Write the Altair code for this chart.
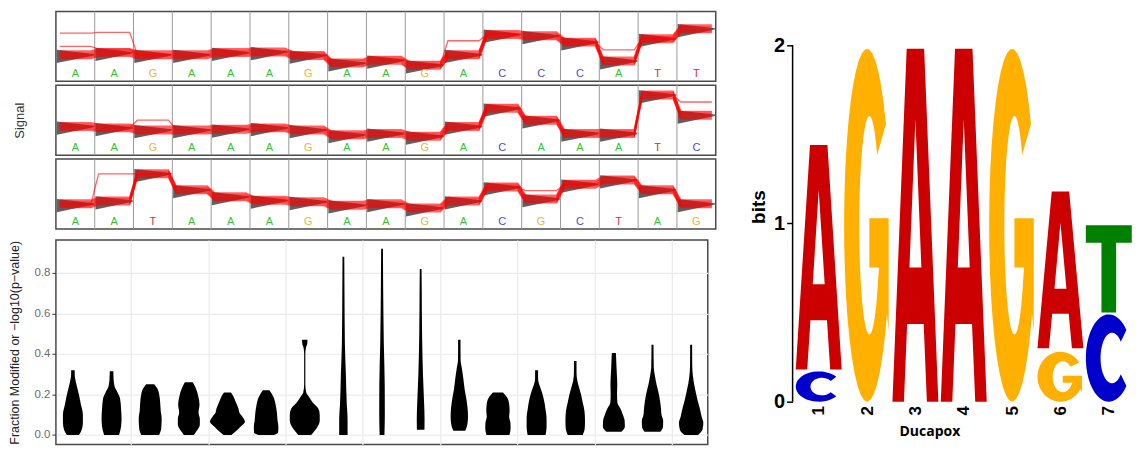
import altair as alt
import numpy as np
import pandas as pd

FONT = "Liberation Sans"

# ---------------- signal panels ----------------
panel_bases = ["AAGAAAGAAGACCCATT", "AAGAAAGAAGACAAATC", "AATAAAGAAGACGCTAG"]
panel1_levels = [0.38, 0.41, 0.38, 0.38, 0.41, 0.42, 0.37, 0.26, 0.30, 0.23, 0.38, 0.67, 0.65, 0.56, 0.29, 0.61, 0.75]
panel2_levels = [0.41, 0.39, 0.36, 0.36, 0.37, 0.39, 0.36, 0.29, 0.31, 0.27, 0.41, 0.67, 0.50, 0.31, 0.31, 0.86, 0.57]
panel3_levels = [0.36, 0.40, 0.79, 0.56, 0.46, 0.41, 0.39, 0.34, 0.36, 0.30, 0.40, 0.60, 0.43, 0.64, 0.70, 0.56, 0.36]
panel_levels = [panel1_levels, panel2_levels, panel3_levels]
band_offsets = [-0.055, -0.04, -0.027, -0.013, 0.0, 0.013, 0.027, 0.04, 0.055]
outlier_panel = [0, 0, 0, 0, 1, 1, 2, 2]
outlier_start = [0, 0, 10, 14, 16, 2, 1, 12]
outlier_values = [[0.69, 0.70], [0.50, 0.46], [0.58], [0.45], [0.76], [0.50], [0.79], [0.55]]

base_domain = ["A", "C", "G", "T"]
base_colors = ["#35c435", "#4a4ad0", "#f0b43c", "#d83030"]

# ---------------- violin panel ----------------
violin_levels = [
    [0, 0.02, 0.06, 0.10, 0.15, 0.20, 0.26, 0.30, 0.32],
    [0, 0.04, 0.08, 0.13, 0.18, 0.21, 0.24, 0.28, 0.315],
    [0, 0.03, 0.08, 0.12, 0.16, 0.20, 0.23, 0.25],
    [0, 0.02, 0.05, 0.08, 0.11, 0.15, 0.19, 0.23, 0.26],
    [0, 0.02, 0.04, 0.065, 0.09, 0.11, 0.13, 0.16, 0.19, 0.21],
    [0, 0.01, 0.04, 0.07, 0.11, 0.15, 0.18, 0.20, 0.22],
    [0, 0.03, 0.07, 0.10, 0.13, 0.16, 0.19, 0.21, 0.25, 0.40, 0.43, 0.45, 0.47],
    [0, 0.08, 0.15, 0.30, 0.45, 0.70, 0.88],
    [0, 0.10, 0.25, 0.45, 0.70, 0.92],
    [0.025, 0.08, 0.15, 0.30, 0.50, 0.70, 0.82],
    [0.02, 0.05, 0.09, 0.13, 0.18, 0.22, 0.28, 0.33, 0.37, 0.47],
    [0, 0.03, 0.06, 0.09, 0.12, 0.16, 0.19, 0.21],
    [0, 0.04, 0.08, 0.13, 0.17, 0.20, 0.23, 0.26, 0.28, 0.32],
    [0, 0.03, 0.07, 0.12, 0.16, 0.20, 0.24, 0.27, 0.31, 0.365],
    [0.015, 0.04, 0.07, 0.10, 0.13, 0.16, 0.20, 0.25, 0.30, 0.35, 0.39, 0.405],
    [0.015, 0.04, 0.07, 0.10, 0.13, 0.17, 0.21, 0.25, 0.29, 0.33, 0.445],
    [0, 0.025, 0.06, 0.09, 0.13, 0.17, 0.21, 0.25, 0.29, 0.34, 0.445],
]
violin_halfwidths = [
    [6, 8.5, 10, 10, 8, 6, 3, 1.8, 1.8],
    [7.5, 9.5, 10, 9.5, 8.5, 6, 3, 2, 1.8],
    [9, 11, 11.5, 10.5, 10, 9, 7, 4],
    [5, 8, 11, 11, 9.7, 10.7, 9.5, 7, 4],
    [4, 9, 13, 17.5, 15, 12, 11, 8.5, 6, 3.5],
    [8, 12, 12.3, 11.5, 10.8, 9.5, 8, 6, 3.3],
    [6.5, 11.5, 15, 15, 13.5, 8, 4, 1.5, 0.6, 0.6, 1.2, 2.5, 2.7],
    [4.2, 4.2, 3.4, 2.5, 1.5, 1.1, 0.9],
    [2.4, 2.8, 2.7, 1.8, 1.2, 0.9],
    [3.8, 3.9, 3.5, 2.3, 1.4, 1.1, 0.9],
    [6, 8, 8.7, 8.3, 7, 5.5, 4, 2.5, 1.3, 1.2],
    [11.5, 12.7, 12.5, 11.2, 11.7, 11, 8.5, 5],
    [9, 10, 10, 8.8, 7.5, 6, 4, 2, 1.5, 1.5],
    [7.5, 9.5, 9.8, 9.2, 7.5, 5.8, 3.5, 2, 1.3, 1.3],
    [7.5, 11, 10.8, 9, 6.5, 3.5, 3.2, 3.4, 3, 2.5, 2.2, 2],
    [8, 10.5, 10.7, 9, 8.5, 7.5, 6, 4, 2.5, 1.3, 1],
    [7, 11.3, 12.2, 10.5, 8.7, 6.5, 4.7, 3, 1.8, 1.1, 1],
]
violin_ticks = [0.0, 0.2, 0.4, 0.6, 0.8]
violin_vgrid = [2.5, 4.5, 6.5, 8.5, 10.5, 12.5, 14.5, 16.5]
WIDTH_UNIT = 38.7  # px per position unit, converts half-widths

# ---------------- sequence logo ----------------
logo_pos = [1, 1, 2, 3, 4, 5, 6, 6, 7, 7]
logo_letter = ["C", "A", "G", "A", "A", "G", "G", "A", "C", "T"]
logo_bottom = [0.0, 0.18, 0.0, 0.0, 0.0, 0.0, 0.0, 0.30, 0.0, 0.50]
logo_top = [0.17, 1.44, 1.98, 1.98, 1.98, 1.98, 0.28, 1.18, 0.49, 0.99]
logo_colors = ["#cc0000", "#0000cc", "#ffb000", "#008000"]  # A C G T
LETTER_W = 0.95


def arc(cx, cy, rx, ry, a0, a1, n=36):
    t = np.radians(np.linspace(a0, a1, n))
    return list(zip(cx + rx * np.cos(t), cy + ry * np.sin(t)))


def glyph(letter):
    if letter == "A":
        return [(0, 0), (0.31, 1), (0.69, 1), (1, 0), (0.75, 0), (0.68, 0.22),
                (0.32, 0.22), (0.37, 0.38), (0.63, 0.38), (0.5, 0.80), (0.37, 0.38),
                (0.32, 0.22), (0.25, 0)]
    if letter == "T":
        return [(0, 1), (1, 1), (1, 0.80), (0.66, 0.80), (0.66, 0), (0.34, 0),
                (0.34, 0.80), (0, 0.80)]
    if letter == "C":
        return arc(0.5, 0.5, 0.5, 0.5, 40, 320) + arc(0.57, 0.5, 0.25, 0.29, 320, 40)
    # G
    return (arc(0.5, 0.5, 0.5, 0.5, 35, 330)
            + [(0.97, 0.2), (0.97, 0.52), (0.55, 0.52), (0.55, 0.38), (0.76, 0.38)]
            + arc(0.55, 0.5, 0.22, 0.31, 320, 40))


# ================= build signal panels =================
def signal_panel(k):
    lv = panel_levels[k]
    n = len(lv)
    rows = []
    for t, off in enumerate(band_offsets):
        for i in range(n):
            rows.append({"trace": f"b{t}", "x": i + 0.1, "v": lv[i] + off})
            rows.append({"trace": f"b{t}", "x": i + 0.9, "v": lv[i] + off})
    for j, (p, s, vals) in enumerate(zip(outlier_panel, outlier_start, outlier_values)):
        if p != k:
            continue
        for i in range(max(0, s - 1), min(n, s + len(vals) + 1)):
            v = vals[i - s] if s <= i < s + len(vals) else lv[i]
            rows.append({"trace": f"o{j}", "x": i + 0.1, "v": v})
            rows.append({"trace": f"o{j}", "x": i + 0.9, "v": v})
    lines_df = pd.DataFrame(rows)
    wrows = []
    for i in range(n):
        wrows.append({"col": i, "x": i + 0.02, "lo": lv[i] - 0.12, "hi": lv[i] + 0.07})
        wrows.append({"col": i, "x": i + 0.98, "lo": lv[i] - 0.01, "hi": lv[i] + 0.01})
    wedge_df = pd.DataFrame(wrows)
    sep_df = pd.DataFrame({"x": list(range(1, n))})
    letters_df = pd.DataFrame({"x": [i + 0.5 for i in range(n)], "base": list(panel_bases[k])})

    xs = alt.Scale(domain=[0, n], nice=False, zero=False)
    ys = alt.Scale(domain=[0, 1], nice=False, zero=False)
    if k == 1:
        yaxis = alt.Axis(title="Signal", labels=False, ticks=False, domain=False, grid=False,
                         titlePadding=29, titleFont=FONT, titleFontSize=13,
                         titleFontWeight="normal", titleColor="#333333")
    else:
        yaxis = None

    wedge = alt.Chart(wedge_df).mark_area(color="#4f4f4f", opacity=0.9).encode(
        x=alt.X("x:Q", scale=xs, axis=None),
        y=alt.Y("lo:Q", scale=ys, axis=yaxis),
        y2="hi:Q",
        detail="col:N",
    )
    lines = alt.Chart(lines_df).mark_line(color="#ff0000", strokeWidth=1.3, opacity=0.6).encode(
        x=alt.X("x:Q", scale=xs, axis=None),
        y=alt.Y("v:Q", scale=ys, axis=yaxis),
        detail="trace:N",
    )
    seps = alt.Chart(sep_df).mark_rule(color="#9a9a9a", strokeWidth=1).encode(
        x=alt.X("x:Q", scale=xs, axis=None)
    )
    letters = alt.Chart(letters_df).mark_text(font=FONT, fontSize=11, baseline="middle").encode(
        x=alt.X("x:Q", scale=xs, axis=None),
        y=alt.value(63),
        text="base:N",
        color=alt.Color("base:N", scale=alt.Scale(domain=base_domain, range=base_colors), legend=None),
    )
    return alt.layer(seps, wedge, lines, letters).properties(width=661, height=70)


# ================= violin panel =================
vrows = []
for j, (lvls, hws) in enumerate(zip(violin_levels, violin_halfwidths)):
    c = j + 1
    for v, hw in zip(lvls, hws):
        vrows.append({"violin": j, "v": v, "xl": c - hw / WIDTH_UNIT, "xr": c + hw / WIDTH_UNIT})
violin_df = pd.DataFrame(vrows)

violin = alt.Chart(violin_df).mark_area(orient="horizontal", color="black", interpolate="monotone").encode(
    y=alt.Y("v:Q", scale=alt.Scale(domain=[-0.048, 0.963], nice=False, zero=False),
            axis=alt.Axis(values=violin_ticks, format=".1f", grid=True, gridColor="#ebebeb",
                          gridWidth=1.2, domain=False, tickColor="#333333", tickSize=4,
                          labelColor="#6b6b6b", labelFont=FONT, labelFontSize=11.5, labelPadding=2,
                          title="Fraction Modified or \u2212log10(p\u2212value)",
                          titleFont=FONT, titleFontSize=12.5, titleFontWeight="normal",
                          titleColor="#222222", titlePadding=12)),
    x=alt.X("xl:Q", scale=alt.Scale(domain=[0.56, 17.43], nice=False, zero=False),
            axis=alt.Axis(values=violin_vgrid, grid=True, gridColor="#ebebeb", gridWidth=1.2,
                          labels=False, ticks=False, domain=False, title=None)),
    x2="xr:Q",
    detail="violin:N",
).properties(width=653, height=205)

spacer = alt.Chart(pd.DataFrame({"x": [0]})).mark_point(opacity=0, size=1).encode(
    x=alt.X("x:Q", axis=None), y=alt.value(0)
).properties(width=10, height=3, view=alt.ViewBackground(stroke="transparent"))

# ================= logo =================
grows = []
for g, (p, L, b, t) in enumerate(zip(logo_pos, logo_letter, logo_bottom, logo_top)):
    for i, (ux, uy) in enumerate(glyph(L)):
        grows.append({"gid": g, "i": i, "letter": L,
                      "x": p - LETTER_W / 2 + ux * LETTER_W,
                      "y": b + uy * (t - b)})
logo_df = pd.DataFrame(grows)

lx = alt.Scale(domain=[0.46, 7.48], nice=False, zero=False)
ly = alt.Scale(domain=[0, 2.19], nice=False, zero=False)

letters_logo = alt.Chart(logo_df).mark_line(filled=True, interpolate="linear").encode(
    x=alt.X("x:Q", scale=lx,
            axis=alt.Axis(values=[1, 2, 3, 4, 5, 6, 7], format="d", labelAngle=270, labelFont=FONT,
                          labelFontWeight="bold", labelFontSize=17, labelColor="black",
                          labelPadding=4, ticks=False, domain=False, grid=False,
                          title="Ducapox", titleFont="Open Sans", titleFontWeight="bold",
                          titleFontSize=14, titleColor="black", titlePadding=9, titleX=137)),
    y=alt.Y("y:Q", scale=ly,
            axis=alt.Axis(values=[0, 1, 2], format="d", labelFont=FONT, labelFontWeight="bold",
                          labelFontSize=20, labelColor="black", tickColor="black",
                          tickSize=6, tickWidth=1.5, labelPadding=2, domain=False, grid=False,
                          title="bits", titleFont=FONT, titleFontWeight="bold",
                          titleFontSize=19, titleColor="black", titlePadding=5)),
    color=alt.Color("letter:N", scale=alt.Scale(domain=["A", "C", "G", "T"], range=logo_colors),
                    legend=None),
    detail="gid:N",
    order="i:Q",
)
axis_line = alt.Chart(pd.DataFrame({"y": [0.0], "y2": [2.0]})).mark_rule(
    color="black", strokeWidth=1.5).encode(
    x=alt.value(0), y=alt.Y("y:Q", scale=ly), y2="y2:Q")

logo = alt.layer(axis_line, letters_logo).properties(
    width=340, height=391, view=alt.ViewBackground(stroke="transparent"))

left = alt.vconcat(signal_panel(0), signal_panel(1), signal_panel(2), spacer, violin,
                   spacing=4, bounds="flush")
chart = alt.hconcat(left, logo, spacing=32).resolve_scale(color="independent").properties(
    padding={"left": 0, "top": 1, "right": 0, "bottom": 0}
).configure_view(stroke="#4a4a4a", strokeWidth=1.5)

chart.save("out.html", embed_options={"renderer": "svg", "actions": False})
